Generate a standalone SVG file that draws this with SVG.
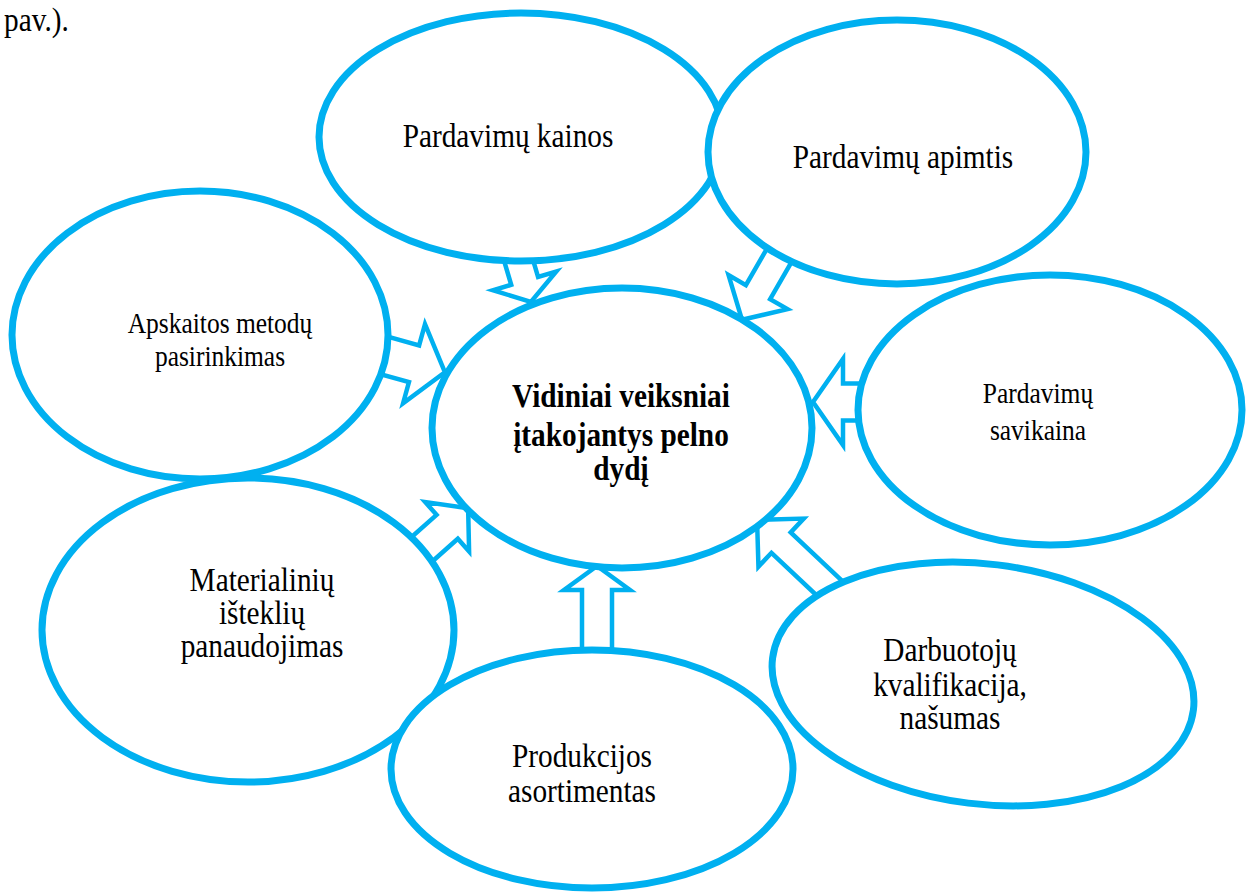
<svg xmlns="http://www.w3.org/2000/svg" width="1248" height="894" viewBox="0 0 1248 894">
  <style>
    .oval { fill: #ffffff; stroke: #00B0F0; stroke-width: 7; }
    .arrow { fill: #ffffff; stroke: #00B0F0; stroke-width: 4.5; stroke-linejoin: miter; }
    /* lettering is set slightly condensed: each line is placed with translate() then scale(0.888,1) */
    text { font-family: "Liberation Serif", "Times New Roman", serif; font-size: 33px; fill: #000000; text-anchor: middle; }
    text.small { font-size: 28.7px; }
    text.bold { font-weight: bold; }
    text.plain { text-anchor: start; }
  </style>
  <rect width="1248" height="894" fill="#ffffff"/>
  <text class="plain" transform="translate(4,31) scale(0.888,1)">pav.).</text>

  <!-- block arrows pointing into the central oval; each base is tucked under its source oval -->
  <g id="connectors">
    <path class="arrow" transform="translate(512.7,240.6) rotate(73.5)" d="M0,-14 L42,-14 L42,-33 L64,0 L42,33 L42,14 L0,14 Z"/>
    <path class="arrow" transform="translate(787.5,241) rotate(120)" d="M0,-14 L59,-14 L59,-34 L91,0 L59,34 L59,14 L0,14 Z"/>
    <path class="arrow" transform="translate(375.5,353) rotate(15.5)" d="M0,-19 L40,-19 L40,-41 L72,0 L40,41 L40,19 L0,19 Z"/>
    <path class="arrow" transform="translate(409.8,560) rotate(-41.6)" d="M0,-16 L50,-16 L50,-33 L78,0 L50,33 L50,16 L0,16 Z"/>
    <path class="arrow" transform="translate(597,665) rotate(-90)" d="M0,-15 L75,-15 L75,-33 L99,0 L75,33 L75,15 L0,15 Z"/>
    <path class="arrow" transform="translate(844.4,602.3) rotate(-136.7)" d="M0,-14 L87,-14 L87,-33 L120,0 L87,33 L87,14 L0,14 Z"/>
    <path class="arrow" transform="translate(875,402) rotate(180)" d="M0,-18.5 L32,-18.5 L32,-43 L62,0 L32,43 L32,18.5 L0,18.5 Z"/>
  </g>

  <g id="node-center">
    <ellipse class="oval" cx="622" cy="428" rx="190" ry="140"/>
    <text class="bold" transform="translate(621,407) scale(0.888,1)">Vidiniai veiksniai</text>
    <text class="bold" transform="translate(621,446) scale(0.888,1)">įtakojantys pelno</text>
    <text class="bold" transform="translate(621,480) scale(0.888,1)">dydį</text>
  </g>

  <g id="node-kainos">
    <ellipse class="oval" cx="521" cy="137" rx="202" ry="124"/>
    <text transform="translate(508,147) scale(0.888,1)">Pardavimų kainos</text>
  </g>

  <g id="node-apimtis">
    <ellipse class="oval" cx="897" cy="152" rx="189" ry="132"/>
    <text transform="translate(903,168) scale(0.888,1)">Pardavimų apimtis</text>
  </g>

  <g id="node-apskaita">
    <ellipse class="oval" cx="200" cy="335" rx="188" ry="144"/>
    <text class="small" transform="translate(220,333) scale(0.888,1)">Apskaitos metodų</text>
    <text class="small" transform="translate(220,366) scale(0.888,1)">pasirinkimas</text>
  </g>

  <g id="node-savikaina">
    <ellipse class="oval" cx="1050" cy="410" rx="192" ry="135"/>
    <text class="small" transform="translate(1038,403) scale(0.888,1)">Pardavimų</text>
    <text class="small" transform="translate(1038,440) scale(0.888,1)">savikaina</text>
  </g>

  <g id="node-materialiniai">
    <ellipse class="oval" cx="248" cy="630" rx="206" ry="152"/>
    <text transform="translate(262,591) scale(0.888,1)">Materialinių</text>
    <text transform="translate(262,624) scale(0.888,1)">išteklių</text>
    <text transform="translate(262,657) scale(0.888,1)">panaudojimas</text>
  </g>

  <g id="node-produkcija">
    <ellipse class="oval" cx="592" cy="769" rx="201" ry="119"/>
    <text transform="translate(582,767) scale(0.888,1)">Produkcijos</text>
    <text transform="translate(582,802) scale(0.888,1)">asortimentas</text>
  </g>

  <g id="node-darbuotojai">
    <ellipse class="oval" cx="983" cy="684" rx="212" ry="120" transform="rotate(7 983 684)"/>
    <text transform="translate(950,661) scale(0.888,1)">Darbuotojų</text>
    <text transform="translate(950,696) scale(0.888,1)">kvalifikacija,</text>
    <text transform="translate(950,729) scale(0.888,1)">našumas</text>
  </g>
</svg>
